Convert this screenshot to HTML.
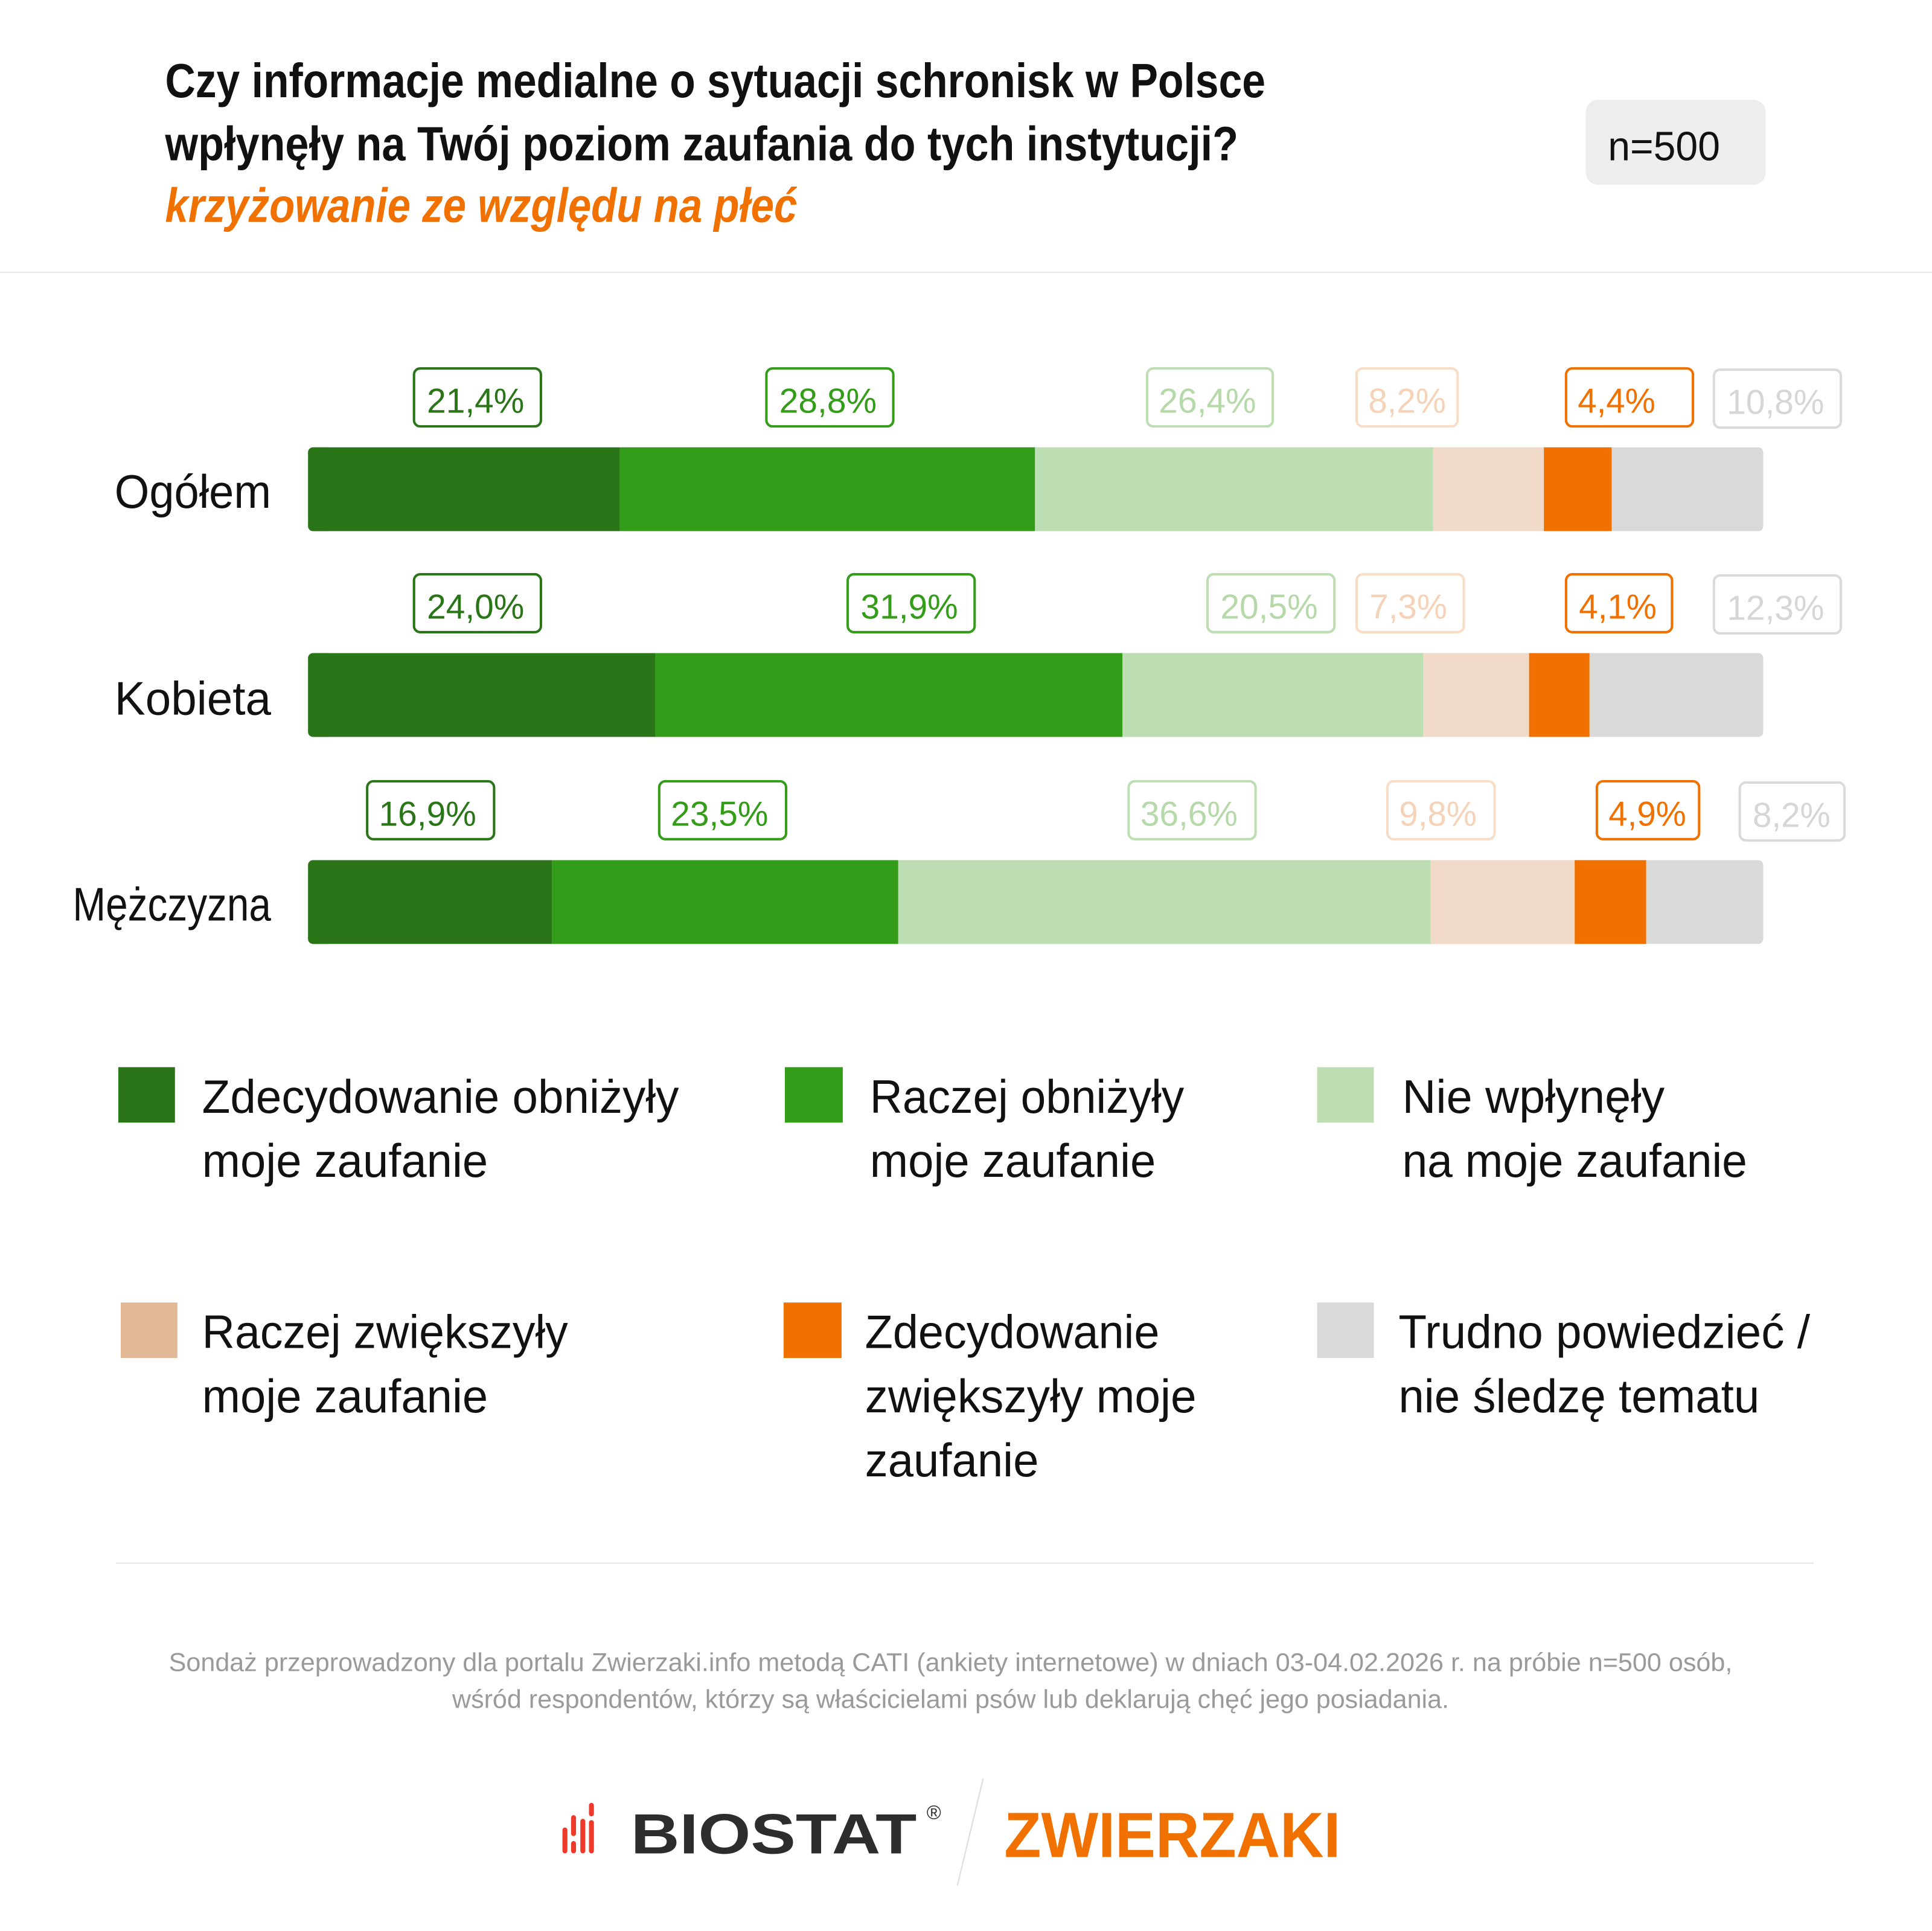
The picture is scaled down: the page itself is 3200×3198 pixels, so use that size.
<!DOCTYPE html>
<html><head><meta charset="utf-8"><style>
html,body{margin:0;padding:0;background:#fff;}
svg{display:block;}
text{font-family:"Liberation Sans Narrow","Liberation Sans","Noto Sans CJK SC",sans-serif;}
</style></head><body>
<svg width="3200" height="3198" viewBox="0 0 1568 1567" preserveAspectRatio="none" xmlns="http://www.w3.org/2000/svg">
<rect width="1568" height="1567" fill="#fff"/>
<text x="134" y="79" font-size="39" font-weight="bold" fill="#111" textLength="893" lengthAdjust="spacingAndGlyphs">Czy informacje medialne o sytuacji schronisk w Polsce</text>
<text x="134" y="130" font-size="39" font-weight="bold" fill="#111" textLength="871" lengthAdjust="spacingAndGlyphs">wpłynęły na Twój poziom zaufania do tych instytucji?</text>
<text x="134" y="180" font-size="39" font-weight="bold" font-style="italic" fill="#f07000" textLength="513" lengthAdjust="spacingAndGlyphs">krzyżowanie ze względu na płeć</text>
<rect x="1287" y="81" width="146" height="69" rx="10" fill="#ededed"/>
<text x="1305" y="130" font-size="33" fill="#111" textLength="91" lengthAdjust="spacingAndGlyphs">n=500</text>
<rect x="0" y="220.5" width="1568" height="1" fill="#e6e6e6"/>

<g font-size="38" fill="#111" text-anchor="end">
<text x="220" y="412" textLength="127" lengthAdjust="spacingAndGlyphs">Ogółem</text>
<text x="220" y="580" textLength="127" lengthAdjust="spacingAndGlyphs">Kobieta</text>
<text x="220" y="747" textLength="161" lengthAdjust="spacingAndGlyphs">Mężczyzna</text>
</g>

<g>
<rect x="250" y="363" width="1181" height="68" rx="4" fill="#d9d9d9"/>
<rect x="250" y="363" width="20" height="68" rx="4" fill="#2a7518"/>
<rect x="254" y="363" width="249" height="68" fill="#2a7518"/>
<rect x="503" y="363" width="337" height="68" fill="#339c18"/>
<rect x="840" y="363" width="323" height="68" fill="#bdddb2"/>
<rect x="1163" y="363" width="90" height="68" fill="#f2dac8"/>
<rect x="1253" y="363" width="55" height="68" fill="#f07000"/>

<rect x="250" y="530" width="1181" height="68" rx="4" fill="#d9d9d9"/>
<rect x="250" y="530" width="20" height="68" rx="4" fill="#2a7518"/>
<rect x="254" y="530" width="278" height="68" fill="#2a7518"/>
<rect x="532" y="530" width="379" height="68" fill="#339c18"/>
<rect x="911" y="530" width="244" height="68" fill="#bdddb2"/>
<rect x="1155" y="530" width="86" height="68" fill="#f2dac8"/>
<rect x="1241" y="530" width="49" height="68" fill="#f07000"/>

<rect x="250" y="698" width="1181" height="68" rx="4" fill="#d9d9d9"/>
<rect x="250" y="698" width="20" height="68" rx="4" fill="#2a7518"/>
<rect x="254" y="698" width="194" height="68" fill="#2a7518"/>
<rect x="448" y="698" width="281" height="68" fill="#339c18"/>
<rect x="729" y="698" width="432" height="68" fill="#bdddb2"/>
<rect x="1161" y="698" width="117" height="68" fill="#f2dac8"/>
<rect x="1278" y="698" width="58" height="68" fill="#f07000"/>
</g>

<g font-size="28" text-anchor="middle" stroke-width="2" fill="#fff">
<rect x="336" y="299" width="103" height="47" rx="5" stroke="#2a7518"/>
<rect x="622" y="299" width="103" height="47" rx="5" stroke="#339c18"/>
<rect x="931" y="299" width="102" height="47" rx="5" stroke="#bdddb2"/>
<rect x="1101" y="299" width="82" height="47" rx="5" stroke="#f8dcc6"/>
<rect x="1271" y="299" width="103" height="47" rx="5" stroke="#f07000"/>
<rect x="1391" y="300" width="103" height="47" rx="5" stroke="#dadada"/>
<rect x="336" y="466" width="103" height="47" rx="5" stroke="#2a7518"/>
<rect x="688" y="466" width="103" height="47" rx="5" stroke="#339c18"/>
<rect x="980" y="466" width="103" height="47" rx="5" stroke="#bdddb2"/>
<rect x="1101" y="466" width="87" height="47" rx="5" stroke="#f8dcc6"/>
<rect x="1271" y="466" width="86" height="47" rx="5" stroke="#f07000"/>
<rect x="1391" y="467" width="103" height="47" rx="5" stroke="#dadada"/>
<rect x="298" y="634" width="103" height="47" rx="5" stroke="#2a7518"/>
<rect x="535" y="634" width="103" height="47" rx="5" stroke="#339c18"/>
<rect x="916" y="634" width="103" height="47" rx="5" stroke="#bdddb2"/>
<rect x="1126" y="634" width="87" height="47" rx="5" stroke="#f8dcc6"/>
<rect x="1296" y="634" width="83" height="47" rx="5" stroke="#f07000"/>
<rect x="1412" y="635" width="85" height="47" rx="5" stroke="#dadada"/>
</g>
<g font-size="28" text-anchor="middle" lengthAdjust="spacingAndGlyphs">
<text x="386" y="335" fill="#2a7518" textLength="79" lengthAdjust="spacingAndGlyphs">21,4%</text>
<text x="672" y="335" fill="#339c18" textLength="79" lengthAdjust="spacingAndGlyphs">28,8%</text>
<text x="980" y="335" fill="#b5d9a8" textLength="79" lengthAdjust="spacingAndGlyphs">26,4%</text>
<text x="1142" y="335" fill="#f6d3b8" textLength="63" lengthAdjust="spacingAndGlyphs">8,2%</text>
<text x="1312" y="335" fill="#f07000" textLength="63" lengthAdjust="spacingAndGlyphs">4,4%</text>
<text x="1441" y="336" fill="#d6d6d6" textLength="79" lengthAdjust="spacingAndGlyphs">10,8%</text>

<text x="386" y="502" fill="#2a7518" textLength="79" lengthAdjust="spacingAndGlyphs">24,0%</text>
<text x="738" y="502" fill="#339c18" textLength="79" lengthAdjust="spacingAndGlyphs">31,9%</text>
<text x="1030" y="502" fill="#b5d9a8" textLength="79" lengthAdjust="spacingAndGlyphs">20,5%</text>
<text x="1143" y="502" fill="#f6d3b8" textLength="63" lengthAdjust="spacingAndGlyphs">7,3%</text>
<text x="1313" y="502" fill="#f07000" textLength="63" lengthAdjust="spacingAndGlyphs">4,1%</text>
<text x="1441" y="503" fill="#d6d6d6" textLength="79" lengthAdjust="spacingAndGlyphs">12,3%</text>

<text x="347" y="670" fill="#2a7518" textLength="79" lengthAdjust="spacingAndGlyphs">16,9%</text>
<text x="584" y="670" fill="#339c18" textLength="79" lengthAdjust="spacingAndGlyphs">23,5%</text>
<text x="965" y="670" fill="#b5d9a8" textLength="79" lengthAdjust="spacingAndGlyphs">36,6%</text>
<text x="1167" y="670" fill="#f6d3b8" textLength="63" lengthAdjust="spacingAndGlyphs">9,8%</text>
<text x="1337" y="670" fill="#f07000" textLength="63" lengthAdjust="spacingAndGlyphs">4,9%</text>
<text x="1454" y="671" fill="#d6d6d6" textLength="63" lengthAdjust="spacingAndGlyphs">8,2%</text>
</g>

<rect x="96" y="866" width="46" height="45" fill="#2a7518"/>
<rect x="637" y="866" width="47" height="45" fill="#339c18"/>
<rect x="1069" y="866" width="46" height="45" fill="#bddcb1"/>
<rect x="98" y="1057" width="46" height="45" fill="#e3b896"/>
<rect x="636" y="1057" width="47" height="45" fill="#f07000"/>
<rect x="1069" y="1057" width="46" height="45" fill="#d9d9d9"/>
<g font-size="38" fill="#111">
<text x="164" y="903" textLength="387" lengthAdjust="spacingAndGlyphs">Zdecydowanie obniżyły</text>
<text x="164" y="955" textLength="232" lengthAdjust="spacingAndGlyphs">moje zaufanie</text>
<text x="706" y="903" textLength="255" lengthAdjust="spacingAndGlyphs">Raczej obniżyły</text>
<text x="706" y="955" textLength="232" lengthAdjust="spacingAndGlyphs">moje zaufanie</text>
<text x="1138" y="903" textLength="213" lengthAdjust="spacingAndGlyphs">Nie wpłynęły</text>
<text x="1138" y="955" textLength="280" lengthAdjust="spacingAndGlyphs">na moje zaufanie</text>
<text x="164" y="1094" textLength="297" lengthAdjust="spacingAndGlyphs">Raczej zwiększyły</text>
<text x="164" y="1146" textLength="232" lengthAdjust="spacingAndGlyphs">moje zaufanie</text>
<text x="702" y="1094" textLength="239" lengthAdjust="spacingAndGlyphs">Zdecydowanie</text>
<text x="702" y="1146" textLength="269" lengthAdjust="spacingAndGlyphs">zwiększyły moje</text>
<text x="702" y="1198" textLength="141" lengthAdjust="spacingAndGlyphs">zaufanie</text>
<text x="1135" y="1094" textLength="334" lengthAdjust="spacingAndGlyphs">Trudno powiedzieć /</text>
<text x="1135" y="1146" textLength="293" lengthAdjust="spacingAndGlyphs">nie śledzę tematu</text>
</g>

<rect x="94" y="1268" width="1378" height="1" fill="#e6e6e6"/>

<g font-size="21" fill="#9a9a9a">
<text x="137" y="1356" textLength="1269" lengthAdjust="spacingAndGlyphs">Sondaż przeprowadzony dla portalu Zwierzaki.info metodą CATI (ankiety internetowe) w dniach 03-04.02.2026 r. na próbie n=500 osób,</text>
<text x="367" y="1386" textLength="809" lengthAdjust="spacingAndGlyphs">wśród respondentów, którzy są właścicielami psów lub deklarują chęć jego posiadania.</text>
</g>

<g fill="#ee3a2a">
<rect x="456.5" y="1483" width="4" height="21" rx="2"/>
<rect x="463.5" y="1473" width="4" height="17" rx="2"/>
<rect x="463.5" y="1494" width="4" height="10" rx="2"/>
<rect x="471" y="1476" width="4" height="28" rx="2"/>
<rect x="478" y="1463" width="4" height="11" rx="2"/>
<rect x="478" y="1477" width="4" height="27" rx="2"/>
</g>
<text x="512" y="1504" font-size="46" font-weight="bold" fill="#2d2d2d" font-family="Liberation Sans" textLength="232" lengthAdjust="spacingAndGlyphs">BIOSTAT</text>
<text x="752" y="1476" font-size="16" fill="#2d2d2d">®</text>
<line x1="798" y1="1443" x2="777" y2="1530" stroke="#dcdcdc" stroke-width="1"/>
<text x="815" y="1507" font-size="52" font-weight="bold" fill="#f07000" font-family="Liberation Sans" textLength="273" lengthAdjust="spacingAndGlyphs">ZWIERZAKI</text>
</svg>
</body></html>
